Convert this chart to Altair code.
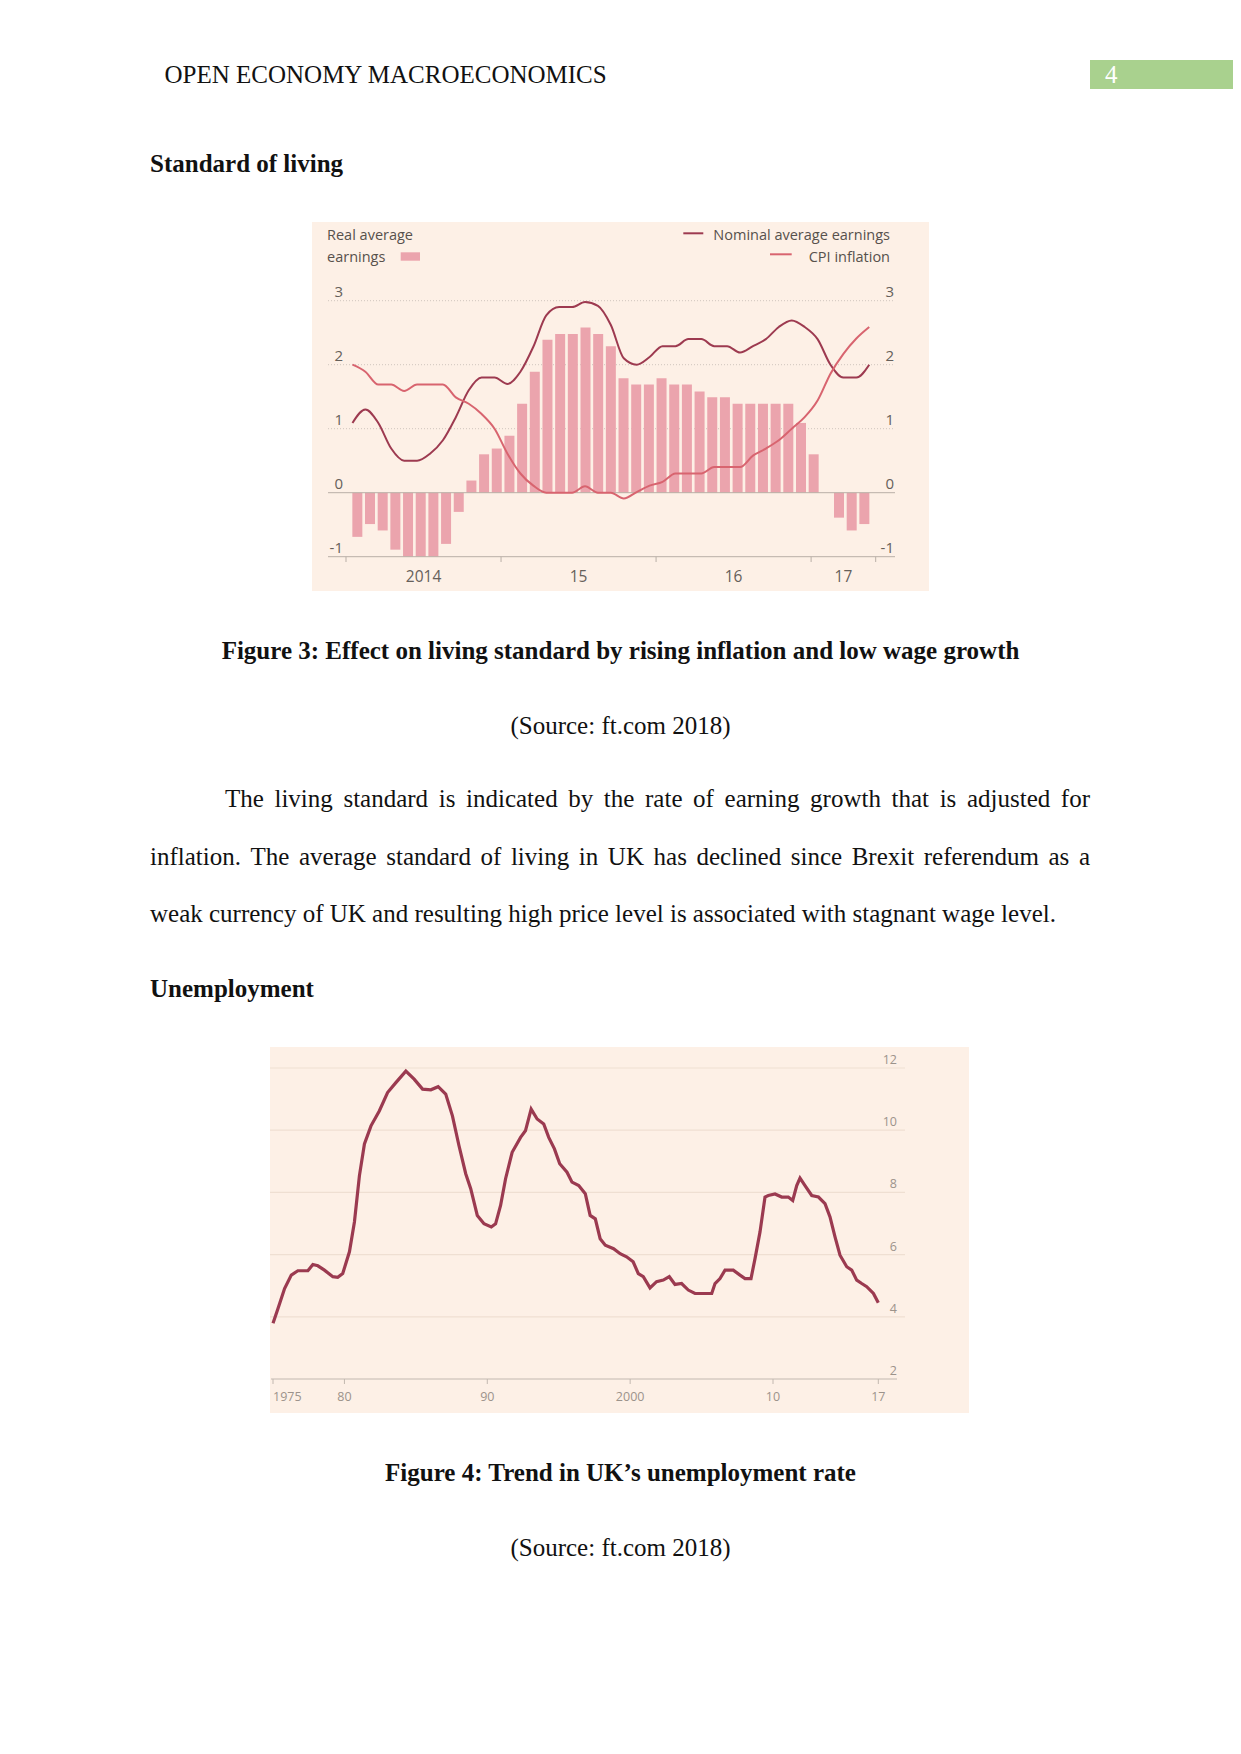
import altair as alt
import pandas as pd

# ---------------- DATA ----------------
# Chart 1 (monthly, Jan 2014 .. May 2017), % change
months1 = [f"{y}-{m:02d}" for y in (2014, 2015, 2016) for m in range(1, 13)] + [f"2017-{m:02d}" for m in range(1, 6)]
real_avg = [-0.69, -0.49, -0.59, -0.89, -1.0, -1.0, -1.0, -0.80, -0.30, 0.19, 0.60, 0.69,
            0.89, 1.39, 1.89, 2.39, 2.48, 2.48, 2.58, 2.48, 2.29, 1.79, 1.69, 1.69,
            1.79, 1.69, 1.69, 1.58, 1.49, 1.49, 1.39, 1.39, 1.39, 1.39, 1.39, 1.09,
            0.60, 0.0, -0.39, -0.59, -0.49]
nominal = [1.09, 1.30, 1.09, 0.69, 0.50, 0.50, 0.61, 0.82, 1.18, 1.60, 1.80, 1.80,
           1.70, 1.89, 2.28, 2.77, 2.90, 2.90, 2.98, 2.92, 2.62, 2.10, 2.00, 2.12,
           2.29, 2.29, 2.40, 2.40, 2.29, 2.29, 2.19, 2.29, 2.40, 2.59, 2.69, 2.59,
           2.40, 2.00, 1.80, 1.80, 2.00]
cpi = [2.00, 1.89, 1.69, 1.69, 1.59, 1.69, 1.69, 1.69, 1.49, 1.39, 1.23, 1.00,
       0.61, 0.30, 0.11, 0.00, 0.00, 0.00, 0.10, 0.00, 0.00, -0.09, 0.01, 0.11,
       0.17, 0.30, 0.30, 0.30, 0.40, 0.40, 0.40, 0.58, 0.69, 0.82, 1.00, 1.18,
       1.44, 1.86, 2.17, 2.41, 2.59]
y1_ticks = [-1, 0, 1, 2, 3]
x1_ticks = [2014, 2015, 2016, 2017, 2017 + 5 / 12]
x1_label_pos = [2014.5, 2015.5, 2016.5, 2017 + 5 / 24]
x1_labels = ["2014", "15", "16", "17"]

# Chart 2: UK unemployment rate, %
u_year = [1975.0, 1975.35, 1975.81, 1976.28, 1976.74, 1977.44, 1977.79, 1978.14, 1978.6, 1979.19,
          1979.53, 1979.88, 1980.35, 1980.7, 1981.05, 1981.4, 1981.86, 1982.44, 1983.02, 1983.6,
          1984.3, 1984.88, 1985.47, 1986.05, 1986.56, 1987.09, 1987.56, 1988.02, 1988.49, 1988.84,
          1989.3, 1989.77, 1990.28, 1990.58, 1990.93, 1991.28, 1991.74, 1992.33, 1992.67, 1993.07,
          1993.49, 1993.95, 1994.3, 1994.7, 1995.07, 1995.58, 1995.93, 1996.4, 1996.86, 1997.2,
          1997.56, 1997.9, 1998.26, 1998.84, 1999.3, 1999.75, 2000.21, 2000.57, 2000.92, 2001.39,
          2001.85, 2002.32, 2002.74, 2003.14, 2003.6, 2004.07, 2004.54, 2005.12, 2005.71, 2005.94,
          2006.29, 2006.64, 2007.22, 2007.69, 2008.04, 2008.46, 2008.74, 2009.09, 2009.44, 2009.67,
          2010.14, 2010.61, 2011.07, 2011.38, 2011.66, 2011.89, 2012.24, 2012.71, 2013.18, 2013.64,
          2013.99, 2014.34, 2014.69, 2015.16, 2015.51, 2015.86, 2016.21, 2016.56, 2017.03, 2017.37]
unemp = [3.79, 4.27, 4.91, 5.34, 5.48, 5.48, 5.68, 5.64, 5.50, 5.29,
         5.27, 5.39, 6.09, 7.05, 8.54, 9.56, 10.14, 10.62, 11.21, 11.53,
         11.90, 11.64, 11.32, 11.30, 11.40, 11.16, 10.46, 9.50, 8.60, 8.12,
         7.26, 6.99, 6.89, 6.99, 7.58, 8.44, 9.29, 9.77, 9.98, 10.68,
         10.36, 10.20, 9.77, 9.40, 8.92, 8.65, 8.33, 8.22, 7.96, 7.26,
         7.15, 6.51, 6.30, 6.19, 6.03, 5.93, 5.77, 5.39, 5.29, 4.93,
         5.13, 5.18, 5.29, 5.04, 5.07, 4.86, 4.75, 4.75, 4.75, 5.07,
         5.23, 5.50, 5.50, 5.34, 5.23, 5.23, 5.87, 6.73, 7.85, 7.90,
         7.95, 7.85, 7.85, 7.74, 8.22, 8.46, 8.22, 7.90, 7.85, 7.64,
         7.21, 6.57, 5.98, 5.61, 5.50, 5.18, 5.07, 4.97, 4.75, 4.45]
y2_ticks = [2, 4, 6, 8, 10, 12]
x2_ticks = [1975, 1980, 1990, 2000, 2010, 2017.37]
x2_labels = ["1975", "80", "90", "2000", "10", "17"]

# Page text
header = "OPEN ECONOMY MACROECONOMICS"
page_no = "4"
heading1 = "Standard of living"
caption3 = "Figure 3: Effect on living standard by rising inflation and low wage growth"
source = "(Source: ft.com 2018)"
para = ["The living standard is indicated by the rate of earning growth that is adjusted for",
        "inflation. The average standard of living in UK has declined since Brexit referendum as a",
        "weak currency of UK and resulting high price level is associated with stagnant wage level."]
heading2 = "Unemployment"
caption4 = "Figure 4: Trend in UK\u2019s unemployment rate"

# ---------------- LAYOUT HELPERS ----------------
M = 8  # page margin


def px(v):
    return v - M


def py(v):
    return v - M


one = alt.Data(values=[{"k": 1}])
SERIF = "Liberation Serif"
SANS = "Open Sans"


def rect(x1, x2, y1, y2, color):
    return alt.Chart(one).mark_rect(color=color).encode(
        x=alt.value(px(x1)), x2=alt.value(px(x2)), y=alt.value(py(y1)), y2=alt.value(py(y2)))


def seg(x1, x2, y1, y2, color, width=1.0):
    return alt.Chart(one).mark_rule(color=color, strokeWidth=width).encode(
        x=alt.value(px(x1)), x2=alt.value(px(x2)), y=alt.value(py(y1)), y2=alt.value(py(y2)))


def txt(s, x, y, size=25, font=SERIF, weight="normal", color="#111111", align="left"):
    return alt.Chart(one).mark_text(text=s, font=font, fontSize=size, fontWeight=weight,
                                    color=color, align=align, baseline="alphabetic").encode(
        x=alt.value(px(x)), y=alt.value(py(y)))


# Times New Roman / Liberation Serif advance widths (em fraction)
TW = {" ": 0.25, "a": 0.4438, "b": 0.5, "c": 0.4438, "d": 0.5, "e": 0.4438, "f": 0.333, "g": 0.5,
      "h": 0.5, "i": 0.2778, "j": 0.2778, "k": 0.5, "l": 0.2778, "m": 0.7778, "n": 0.5, "o": 0.5,
      "p": 0.5, "q": 0.5, "r": 0.333, "s": 0.3892, "t": 0.2778, "u": 0.5, "v": 0.5, "w": 0.7222,
      "x": 0.5, "y": 0.5, "z": 0.4438, "B": 0.667, "K": 0.7222, "T": 0.6108, "U": 0.7222, ".": 0.25}


def word_w(w, size=25):
    return sum(TW.get(c, 0.5) for c in w) * size


def justify(line, x0, x1, y):
    words = line.split(" ")
    widths = [word_w(w) for w in words]
    gap = (x1 - x0 - sum(widths)) / (len(words) - 1)
    rows, x = [], x0
    for w, wd in zip(words, widths):
        rows.append({"x": px(x), "y": py(y), "w": w})
        x += wd + gap
    return rows


layers = []

# ---------------- PAGE TEXT ----------------
layers.append(txt(header, 164.5, 83))
layers.append(rect(1090, 1241, 60, 89, "#a9d18e"))
layers.append(txt(page_no, 1105, 82.5, color="#ffffff"))
layers.append(txt(heading1, 150, 172, weight="bold"))
layers.append(txt(caption3, 620.5, 659, weight="bold", align="center"))
layers.append(txt(source, 620.5, 733.5, align="center"))
words = pd.DataFrame(justify(para[0], 225, 1090, 807) + justify(para[1], 150, 1090, 865))
layers.append(alt.Chart(words).mark_text(font=SERIF, fontSize=25, color="#111111", align="left",
                                         baseline="alphabetic").encode(
    x=alt.X("x:Q", scale=None, axis=None), y=alt.Y("y:Q", scale=None, axis=None), text="w:N"))
layers.append(txt(para[2], 150, 922))
layers.append(txt(heading2, 150, 997, weight="bold"))
layers.append(txt(caption4, 620.5, 1481, weight="bold", align="center"))
layers.append(txt(source, 620.5, 1556, align="center"))

# ---------------- CHART 1 ----------------
BG = "#fdf0e6"
LBL = "#66605a"
x1s = alt.Scale(domain=[2014, 2017 + 5 / 12], range=[px(346), px(875.7)], nice=False, zero=False)
y1s = alt.Scale(domain=[-1, 3], range=[py(556.7), py(300.7)], nice=False, zero=False)
t1 = [int(m[:4]) + (int(m[5:]) - 0.5) / 12 for m in months1]

layers.append(rect(312, 929, 222, 591, BG))
grid1 = pd.DataFrame({"v": [1, 2, 3]})
layers.append(alt.Chart(grid1).mark_rule(color="#cfc5bd", strokeWidth=1, strokeDash=[1, 2]).encode(
    y=alt.Y("v:Q", scale=y1s, axis=None), x=alt.value(px(328)), x2=alt.value(px(895))))
bars = pd.DataFrame({"t": t1, "v": real_avg})
layers.append(alt.Chart(bars).mark_bar(size=10, color="#eba4ad").encode(
    x=alt.X("t:Q", scale=x1s, axis=None), y=alt.Y("v:Q", scale=y1s, axis=None), y2=alt.datum(0)))
base1 = pd.DataFrame({"v": [0, -1]})
layers.append(alt.Chart(base1).mark_rule(color="#b9afa7", strokeWidth=1).encode(
    y=alt.Y("v:Q", scale=y1s, axis=None), x=alt.value(px(328)), x2=alt.value(px(895))))
ticks1 = pd.DataFrame({"t": x1_ticks})
layers.append(alt.Chart(ticks1).mark_rule(color="#b9afa7", strokeWidth=1).encode(
    x=alt.X("t:Q", scale=x1s, axis=None), y=alt.value(py(556.7)), y2=alt.value(py(562))))
xl1 = pd.DataFrame({"t": x1_label_pos, "s": x1_labels})
layers.append(alt.Chart(xl1).mark_text(font=SANS, fontSize=15.5, color=LBL, align="center",
                                       baseline="alphabetic").encode(
    x=alt.X("t:Q", scale=x1s, axis=None), y=alt.value(py(582)), text="s:N"))
yl1 = pd.DataFrame({"v": y1_ticks, "s": [str(v) for v in y1_ticks]})
for xr in (343, 894):
    layers.append(alt.Chart(yl1).mark_text(font=SANS, fontSize=15, color=LBL, align="right",
                                           baseline="alphabetic", dy=-3.5).encode(
        y=alt.Y("v:Q", scale=y1s, axis=None), x=alt.value(px(xr)), text="s:N"))
lines1 = pd.concat([
    pd.DataFrame({"t": t1, "v": nominal, "s": "Nominal average earnings"}),
    pd.DataFrame({"t": t1, "v": cpi, "s": "CPI inflation"})])
layers.append(alt.Chart(lines1).mark_line(strokeWidth=2, interpolate="monotone").encode(
    x=alt.X("t:Q", scale=x1s, axis=None), y=alt.Y("v:Q", scale=y1s, axis=None),
    color=alt.Color("s:N", scale=alt.Scale(domain=["Nominal average earnings", "CPI inflation"],
                                           range=["#9d3a50", "#d8646f"]), legend=None),
    detail="s:N"))
# legend
LEG = "#57514c"
layers.append(txt("Real average", 327, 240, size=14.5, font=SANS, color=LEG))
layers.append(txt("earnings", 327, 261.5, size=14.5, font=SANS, color=LEG))
layers.append(rect(400.7, 420, 252.3, 260.7, "#eba4ad"))
layers.append(seg(683.3, 703.3, 233.3, 233.3, "#9d3a50", 2))
layers.append(txt("Nominal average earnings", 890, 240, size=14.5, font=SANS, color=LEG, align="right"))
layers.append(seg(770, 791.7, 254.3, 254.3, "#d8646f", 2))
layers.append(txt("CPI inflation", 890, 261.5, size=14.5, font=SANS, color=LEG, align="right"))

# ---------------- CHART 2 ----------------
x2s = alt.Scale(domain=[1975, 2017.37], range=[px(273), px(878.3)], nice=False, zero=False)
y2s = alt.Scale(domain=[2, 12], range=[py(1379), py(1068)], nice=False, zero=False)

layers.append(rect(270, 969, 1047, 1413, BG))
grid2 = pd.DataFrame({"v": y2_ticks[1:]})
layers.append(alt.Chart(grid2).mark_rule(color="#efdfd2", strokeWidth=1.2).encode(
    y=alt.Y("v:Q", scale=y2s, axis=None), x=alt.value(px(270)), x2=alt.value(px(905))))
base2 = pd.DataFrame({"v": [2]})
layers.append(alt.Chart(base2).mark_rule(color="#c2b8b0", strokeWidth=1).encode(
    y=alt.Y("v:Q", scale=y2s, axis=None), x=alt.value(px(271)), x2=alt.value(px(897))))
ticks2 = pd.DataFrame({"t": x2_ticks, "s": x2_labels})
layers.append(alt.Chart(ticks2).mark_rule(color="#c2b8b0", strokeWidth=1).encode(
    x=alt.X("t:Q", scale=x2s, axis=None), y=alt.value(py(1379)), y2=alt.value(py(1384))))
layers.append(alt.Chart(ticks2.iloc[:1]).mark_text(font=SANS, fontSize=12.5, color="#9c938b", align="left",
                                                  baseline="alphabetic").encode(
    x=alt.X("t:Q", scale=x2s, axis=None), y=alt.value(py(1401)), text="s:N"))
layers.append(alt.Chart(ticks2.iloc[1:]).mark_text(font=SANS, fontSize=12.5, color="#9c938b", align="center",
                                                  baseline="alphabetic").encode(
    x=alt.X("t:Q", scale=x2s, axis=None), y=alt.value(py(1401)), text="s:N"))
yl2 = pd.DataFrame({"v": y2_ticks, "s": [str(v) for v in y2_ticks]})
layers.append(alt.Chart(yl2).mark_text(font=SANS, fontSize=12.5, color="#9c938b", align="right",
                                       baseline="alphabetic", dy=-4).encode(
    y=alt.Y("v:Q", scale=y2s, axis=None), x=alt.value(px(897)), text="s:N"))
u = pd.DataFrame({"t": u_year, "v": unemp})
layers.append(alt.Chart(u).mark_line(strokeWidth=3.2, color="#9b3a50").encode(
    x=alt.X("t:Q", scale=x2s, axis=None), y=alt.Y("v:Q", scale=y2s, axis=None)))

chart = alt.layer(*layers).resolve_scale(
    x="independent", y="independent", color="independent"
).properties(
    width=1225, height=1730, padding=0, background="white",
    autosize=alt.AutoSizeParams(type="none")
).configure_view(stroke=None)

chart.save("out.html", embed_options={"renderer": "svg", "actions": False})
